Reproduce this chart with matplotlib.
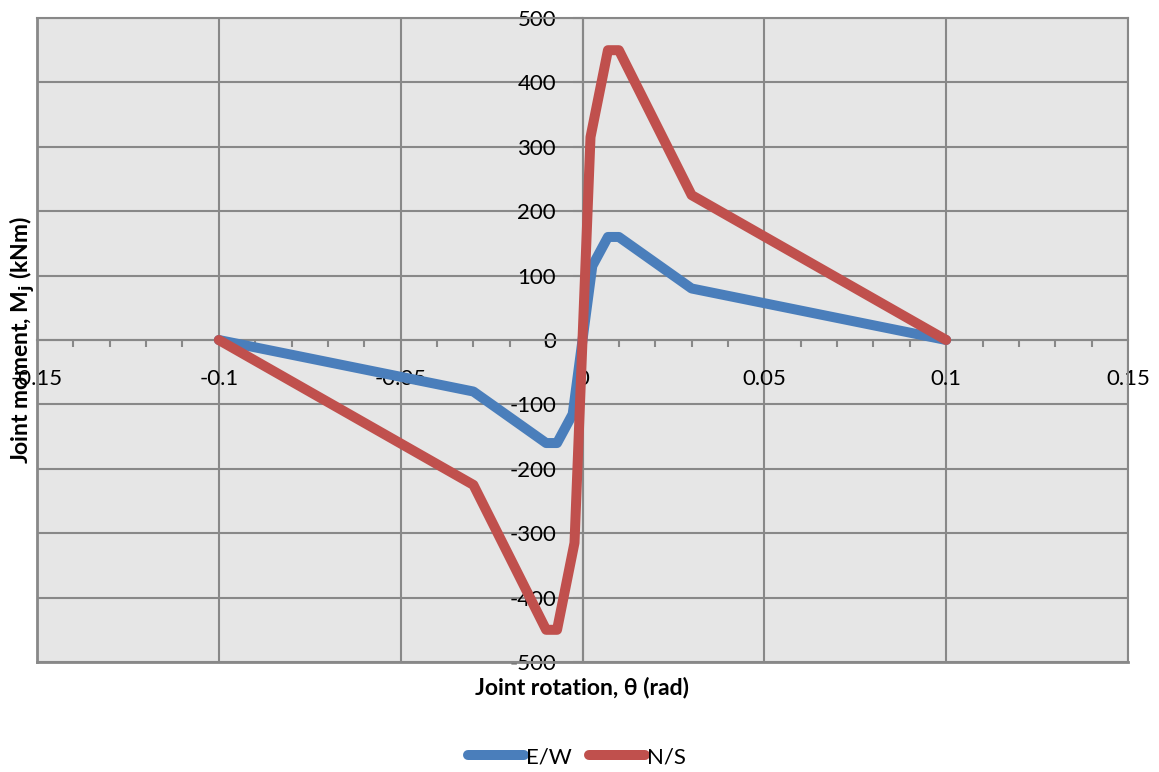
import numpy as np
import matplotlib.pyplot as plt
from matplotlib.ticker import MultipleLocator

# backbone curves, joint rotation (rad) vs joint moment (kNm)
rot_ew = [-0.1, -0.03, -0.01, -0.007, -0.0027, 0.0027, 0.007, 0.01, 0.03, 0.1]
mom_ew = [0, -80, -160, -160, -115, 115, 160, 160, 80, 0]

rot_ns = [-0.1, -0.03, -0.01, -0.007, -0.0022, 0.0022, 0.007, 0.01, 0.03, 0.1]
mom_ns = [0, -225, -450, -450, -315, 315, 450, 450, 225, 0]

x_ticks = [-0.15, -0.1, -0.05, 0, 0.05, 0.1, 0.15]
x_labels = ["-0.15", "-0.1", "-0.05", "0", "0.05", "0.1", "0.15"]
y_ticks = [-500, -400, -300, -200, -100, 0, 100, 200, 300, 400, 500]

plt.rcParams['font.family'] = ['Lato', 'DejaVu Sans']
plt.rcParams['axes.unicode_minus'] = False
grid_col = "#888888"

fig = plt.figure(figsize=(11.59, 7.72), dpi=100)
ax = fig.add_axes([37/1159, 1-662/772, (1128-37)/1159, (662-18)/772])
ax.set_facecolor("#e6e6e6")

ax.plot(rot_ew, mom_ew, color="#4a7ebb", lw=7.2, solid_capstyle="round",
        solid_joinstyle="round", label="E/W", zorder=3)
ax.plot(rot_ns, mom_ns, color="#c0504d", lw=7.2, solid_capstyle="round",
        solid_joinstyle="round", label="N/S", zorder=3)

ax.set_xlim(-0.15, 0.15)
ax.set_ylim(-500, 500)
ax.set_xticks(x_ticks)
ax.set_xticklabels(x_labels)
ax.set_yticks(y_ticks)
ax.xaxis.set_minor_locator(MultipleLocator(0.01))
ax.grid(True, which="major", color=grid_col, lw=1.5, zorder=1)

ax.spines['left'].set_position('zero')
ax.spines['bottom'].set_position('zero')
for s in ax.spines.values():
    s.set_color(grid_col)
    s.set_linewidth(1.5)
    s.set_zorder(2)

ax.tick_params(axis='x', which='both', direction='out', color=grid_col,
               width=1.5, labelsize=16, pad=21)
ax.tick_params(axis='x', which='major', length=0)
ax.tick_params(axis='x', which='minor', length=5)
ax.tick_params(axis='y', direction='out', color=grid_col, width=1.5,
               length=7, labelsize=16, pad=12)

# frame lines at the plot edges
ax.axvline(-0.15, color=grid_col, lw=2, clip_on=False, zorder=2)
ax.axhline(-500, color=grid_col, lw=2, clip_on=False, zorder=2)

fig.text(582/1159, 1-688/772, "Joint rotation, θ (rad)", ha="center",
         va="center", fontsize=16.5, fontweight="bold")
fig.text(22/1159, 1-340/772, r"Joint moment, M$_\mathbf{j}$ (kNm)",
         ha="center", va="center", rotation=90, fontsize=16.5,
         fontweight="bold", zorder=5)

fig.legend(loc="center", bbox_to_anchor=(577/1159, 1-757/772), ncol=2,
           frameon=False, fontsize=16, handlelength=2.5, handletextpad=0.1,
           columnspacing=0.8)

fig.savefig("out.png", dpi=100)
